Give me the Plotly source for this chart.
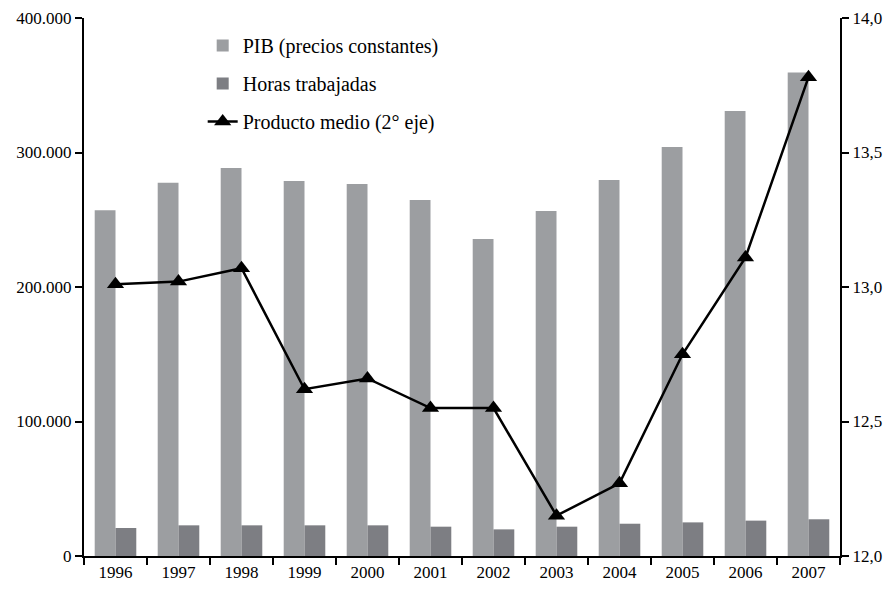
import plotly.graph_objects as go

years = ["1996", "1997", "1998", "1999", "2000", "2001", "2002", "2003", "2004", "2005", "2006", "2007"]
pib = [257000, 277500, 288500, 278800, 276600, 264700, 235700, 256500, 279600, 304100, 330900, 359500]
horas = [20800, 22800, 22800, 22800, 22800, 21800, 19800, 21800, 24000, 25000, 26300, 27300]
producto = [13.01, 13.02, 13.07, 12.62, 12.66, 12.55, 12.55, 12.15, 12.27, 12.75, 13.11, 13.78]

FONT = "'Liberation Serif', 'DejaVu Serif', serif"

fig = go.Figure()
fig.add_trace(go.Bar(x=years, y=pib, name="PIB (precios constantes)",
                     marker=dict(color="#9c9ea1", line=dict(width=0)),
                     legendgroup="a"))
fig.add_trace(go.Bar(x=years, y=horas, name="Horas trabajadas",
                     marker=dict(color="#7d7e83", line=dict(width=0)),
                     legendgroup="b"))
fig.add_trace(go.Scatter(x=years, y=producto, name="Producto medio (2° eje)",
                         mode="lines+markers", yaxis="y2",
                         line=dict(color="black", width=2.5),
                         marker=dict(symbol="triangle-up", size=15, color="black"),
                         legendgroup="c"))

fig.update_layout(
    width=884, height=582,
    margin=dict(l=76, r=52, t=10, b=34, autoexpand=False),
    paper_bgcolor="white", plot_bgcolor="white",
    font=dict(family=FONT, size=17, color="black"),
    separators=",.",
    barmode="group", bargap=0.34, bargroupgap=0,
    showlegend=True,
    legend=dict(x=0.157, y=0.985, xanchor="left", yanchor="top",
                font=dict(family=FONT, size=20), tracegroupgap=9,
                bgcolor="rgba(0,0,0,0)"),
    xaxis=dict(range=[-0.5, len(years) - 0.5],
               showline=True, linecolor="black", linewidth=2, automargin=False,
               ticks="outside", tickson="boundaries", ticklen=7, tickwidth=2,
               tickcolor="black", showgrid=False,
               tickfont=dict(family=FONT, size=17)),
    yaxis=dict(range=[0, 400000], dtick=100000, tickformat=",d", automargin=False,
               showline=True, linecolor="black", linewidth=2,
               ticks="outside", ticklen=7, tickwidth=2, tickcolor="black",
               showgrid=False, zeroline=False,
               tickfont=dict(family=FONT, size=17)),
    yaxis2=dict(range=[12, 14], dtick=0.5, tickformat=".1f", automargin=False,
                overlaying="y", side="right",
                showline=True, linecolor="black", linewidth=2,
                ticks="outside", ticklen=7, tickwidth=2, tickcolor="black",
                showgrid=False, zeroline=False,
                tickfont=dict(family=FONT, size=17)),
)

fig.write_html("out.html")
